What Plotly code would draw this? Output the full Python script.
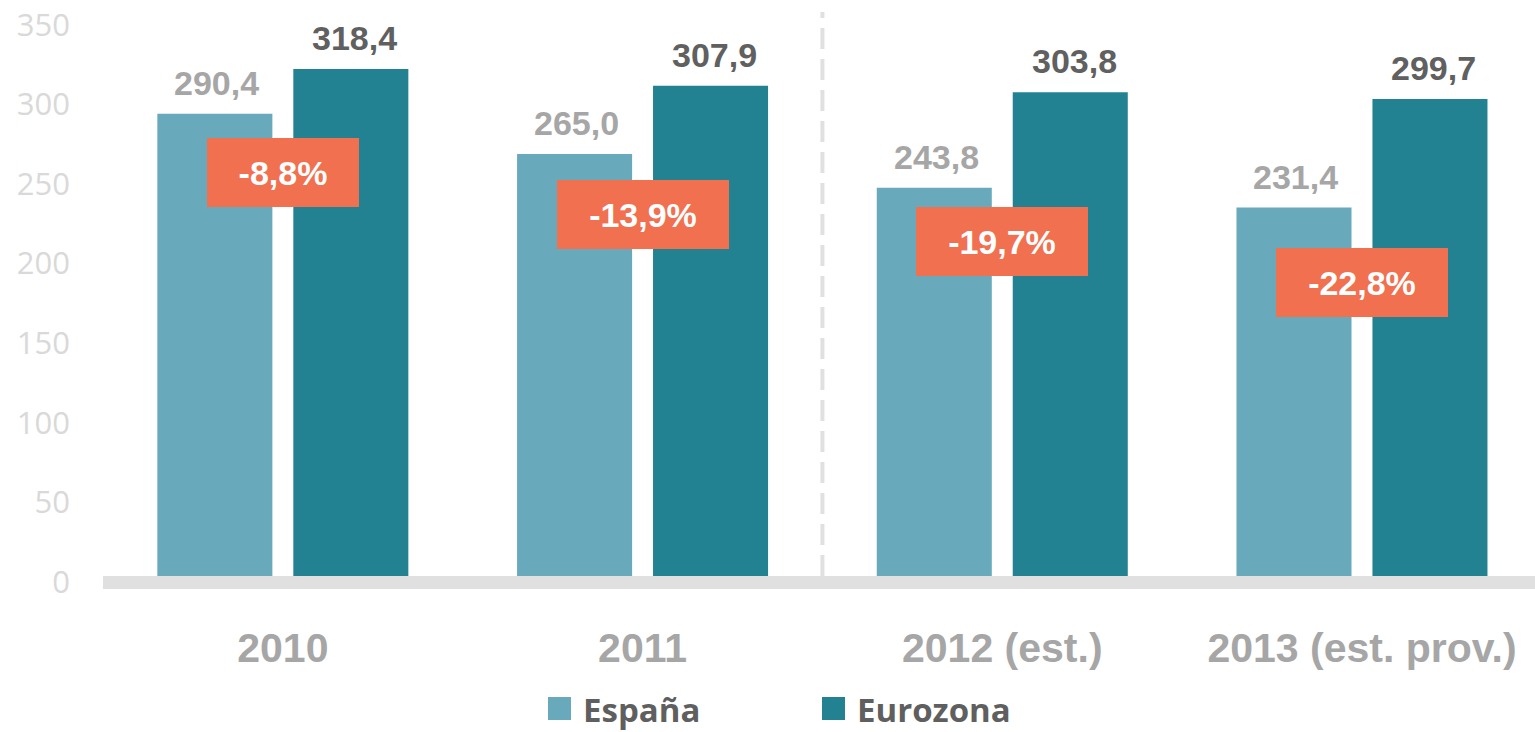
import plotly.graph_objects as go

# ---- data ----
categories = ["2010", "2011", "2012 (est.)", "2013 (est. prov.)"]
series_names = ["España", "Eurozona"]
espana = [290.4, 265.0, 243.8, 231.4]
eurozona = [318.4, 307.9, 303.8, 299.7]
gap_labels = ["-8,8%", "-13,9%", "-19,7%", "-22,8%"]
y_ticks = [0, 50, 100, 150, 200, 250, 300, 350]

# ---- style / layout ----
W, H = 1535, 732
ML, MR, MT, MB = 103, 0, 3, 156
PW, PH = W - ML - MR, H - MT - MB
PX_PER_UNIT = 1.592
Y_MAX = PH / PX_PER_UNIT
SEP_TOP = 354.3                              # top of dashed separator (data units)
gap_label_y = [253.5, 226.8, 210.4, 184.4]   # vertical placement of orange boxes

C_ESP = "#68AABB"
C_EUR = "#228291"
C_ORANGE = "#F0704F"
C_TXT_ESP = "#A6A6A6"
C_TXT_EUR = "#606060"
C_AXIS = "#E0E0E0"
BOLD = "Liberation Sans, Arial, sans-serif"


def px_x(px):
    return (px - ML) / PW


def px_y(py):
    return (H - MB - py) / PH


def fmt(v):
    return f"{v:.1f}".replace(".", ",")


fig = go.Figure()
fig.add_trace(go.Bar(x=categories, y=espana, name=series_names[0],
                     marker=dict(color=C_ESP, line=dict(width=0))))
fig.add_trace(go.Bar(x=categories, y=eurozona, name=series_names[1],
                     marker=dict(color=C_EUR, line=dict(width=0))))

annotations = []
for i, cat in enumerate(categories):
    # categorical axis: annotation x given as the category index
    annotations.append(dict(x=i, y=espana[i], xref="x", yref="y", text=fmt(espana[i]),
                            showarrow=False, xshift=-66, yshift=10, yanchor="bottom",
                            font=dict(family=BOLD, size=34, color=C_TXT_ESP, weight="bold")))
    annotations.append(dict(x=i, y=eurozona[i], xref="x", yref="y", text=fmt(eurozona[i]),
                            showarrow=False, xshift=72, yshift=10, yanchor="bottom",
                            font=dict(family=BOLD, size=34, color=C_TXT_EUR, weight="bold")))
    annotations.append(dict(x=i, y=gap_label_y[i], xref="x", yref="y", text=gap_labels[i],
                            showarrow=False, bgcolor=C_ORANGE, borderpad=0, borderwidth=0,
                            width=52 + 20 * len(gap_labels[i]), height=69, valign="middle",
                            font=dict(family=BOLD, size=34, color="white", weight="bold")))

# manual legend
legend_items = [(series_names[0], C_ESP, 548), (series_names[1], C_EUR, 822)]
shapes = []
for name, col, x0 in legend_items:
    shapes.append(dict(type="rect", xref="paper", yref="paper",
                       x0=px_x(x0), x1=px_x(x0 + 23), y0=px_y(697), y1=px_y(720),
                       fillcolor=col, line=dict(width=0)))
    annotations.append(dict(x=px_x(x0 + 33), y=px_y(709), xref="paper", yref="paper",
                            xanchor="left", yanchor="middle", showarrow=False, text=name,
                            font=dict(family="Open Sans", size=33, color="#5F5F5F", weight="bold")))

# dashed separator between 2011 and 2012
shapes.append(dict(type="line", xref="x", yref="y", x0=1.5, x1=1.5, y0=0, y1=SEP_TOP,
                   line=dict(color=C_AXIS, width=4, dash="21px,10px")))

fig.update_layout(
    width=W, height=H, autosize=False,
    margin=dict(l=ML, r=MR, t=MT, b=MB, pad=0),
    paper_bgcolor="white", plot_bgcolor="white",
    barmode="group", bargap=0.244, bargroupgap=0.154,
    showlegend=False,
    annotations=annotations, shapes=shapes,
    xaxis=dict(range=[-0.5, 3.481], showgrid=False, zeroline=False,
               showline=True, linewidth=13, linecolor=C_AXIS, ticks="",
               tickfont=dict(family=BOLD, size=41, color=C_TXT_ESP, weight="bold"),
               ticklabelstandoff=24),
    yaxis=dict(range=[0, Y_MAX], tickvals=y_ticks, showgrid=False, zeroline=False,
               showline=False, ticks="", ticklabeloverflow="allow",
               tickfont=dict(family="Open Sans", size=31, color="#D9D9D9"),
               ticklabelstandoff=32, ticklabelshift=6),
)

fig.write_html("out.html", config={"displayModeBar": False},
               post_script="document.body.style.margin='0';document.body.style.overflow='hidden';")
